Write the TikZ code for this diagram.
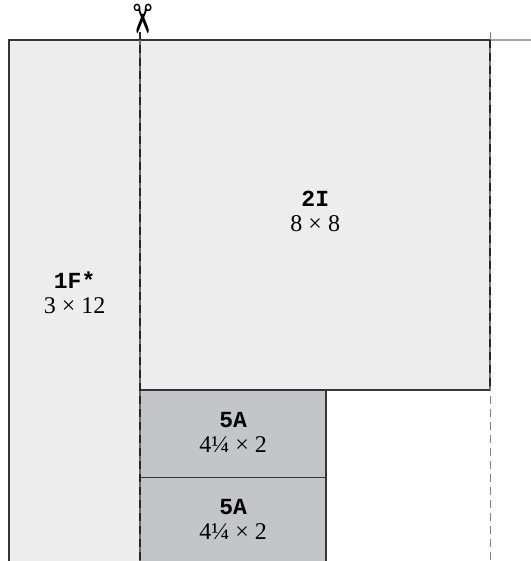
\documentclass[tikz,border=0pt]{standalone}
\usepackage{fontspec}
\setmainfont{Liberation Serif}
\newfontfamily\codefont{Liberation Mono}
\newfontfamily\symfont{DejaVu Sans}
\usepackage{tikz}
\usetikzlibrary{calc}
\definecolor{paleblock}{HTML}{EDEDED}
\definecolor{darkblock}{HTML}{C4C5C9}
\definecolor{edgegray}{HTML}{353535}
\tikzset{block/.style={draw=edgegray,line width=0.75pt},
	foldline/.style={draw=gray!80!black,line width=1pt},
	cutline/.style={draw=black!85,line width=1pt,dash pattern=on 4pt off 2.5pt},
	lbl/.style={align=center,inner sep=0pt,font=\fontsize{12}{12.5}\selectfont}}
\newcommand{\code}[1]{{\codefont\bfseries\fontsize{11.5}{12.5}\selectfont #1}}

\begin{document}
\begin{tikzpicture}[x=21.875pt,y=21.875pt]
		\useasboundingbox (-0.206,-11.909) rectangle (11.931,0.914);
		\clip (-0.206,-11.909) rectangle (11.931,0.914);
		
		\fill[paleblock] (0,0) rectangle (3,-12);
		\fill[paleblock] (3,0) rectangle (11,-8);
		\fill[darkblock] (3,-8) rectangle (7.25,-12);
		
		\draw[block] (0,-12) -- (0,0) -- (11,0);
		\draw[block] (11,-8) -- (3,-8);
		\draw[block] (3,-10) -- (7.25,-10);
		\draw[block] (7.25,-8) -- (7.25,-12);
		\draw[gray!70,line width=0.75pt] (11,0) -- (11.931,0);
		\draw[foldline] (3,0) -- (3,-12);
		\draw[foldline] (11,0) -- (11,-8);
		
		\draw[cutline] (3,0.18) -- (3,-12);
		\draw[cutline,draw=gray,line width=0.75pt] (11,0.18) -- (11,-12);
		\draw[cutline] (11,0) -- (11,-8);
		
		\node[inner sep=0pt,rotate=-90] (cut) at (3,0.47) {\symfont\fontsize{20}{20}\selectfont ✂};
		
		\node[lbl] (f1) at (1.5,-5.78) {\code{1F*}\\3 × 12};
		\node[lbl] (i2) at (7,-3.92) {\code{2I}\\8 × 8};
		\node[lbl] (a5) at (5.125,-8.96) {\code{5A}\\4¼ × 2};
		\node[lbl] (a5b) at (5.125,-10.96) {\code{5A}\\4¼ × 2};
		\end{tikzpicture}
\end{document}
